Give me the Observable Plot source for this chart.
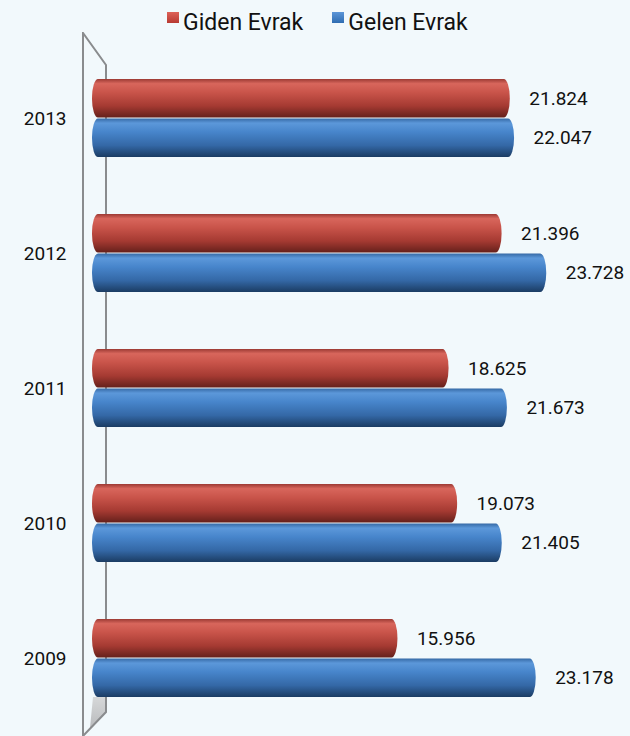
<!DOCTYPE html>
<html><head><meta charset="utf-8">
<script src="https://cdn.jsdelivr.net/npm/d3@7"></script>
<script src="https://cdn.jsdelivr.net/npm/@observablehq/plot@0.6"></script>
<style>
body{margin:0;background:#f2f9fc;font-family:Roboto, "DejaVu Sans", sans-serif;}
#legend{height:32px;display:flex;align-items:flex-start;padding-left:167px;box-sizing:border-box;color:#111;font-size:23px;}
.item{display:flex;align-items:flex-start;}
.item + .item{margin-left:29px;}
.sw{width:12px;height:11px;margin-top:12px;margin-right:4px;}
.lab{line-height:22px;margin-top:12px;}
#chart svg{display:block;}
</style></head><body>
<div id="legend"></div><div id="chart"></div>
<script>
const years = ["2013","2012","2011","2010","2009"];
const giden = [21824,21396,18625,19073,15956];
const gelen = [22047,23728,21673,21405,23178];
const seriesNames = ["Giden Evrak","Gelen Evrak"];
const seriesSwatches = ["linear-gradient(#dd6258,#b83a32)","linear-gradient(#5c96d8,#2f6db2)"];

const fmt = v => d3.format(",")(v).replace(/,/g, ".");
const gidenData = years.map((y,i)=>({year:y, value:giden[i]}));
const gelenData = years.map((y,i)=>({year:y, value:gelen[i]}));

// legend
const leg = d3.select("#legend");
seriesNames.forEach((n,i)=>{
  const it = leg.append("div").attr("class","item");
  it.append("div").attr("class","sw").style("background", seriesSwatches[i]);
  it.append("div").attr("class","lab").text(n);
});

function wall(index, scales, values, dims) {
  const x0 = scales.x(0);
  const g = d3.create("svg:g");
  const defs = g.append("defs");
  const grads = [
    ["gradRed", [["0%","#9c3a34"],["12%","#d8665c"],["35%","#c9544a"],["70%","#a53a32"],["100%","#65201b"]]],
    ["gradBlue", [["0%","#366aa6"],["12%","#5c98da"],["35%","#4785cb"],["70%","#3468a6"],["100%","#1b3c63"]]],
    ["gradFloor", [["0%","#d6d8d9"],["100%","#b9bbbd"]]]
  ];
  for (const [id, stops] of grads) {
    const lg = defs.append("linearGradient").attr("id", id).attr("x1",0).attr("y1",0).attr("x2",0).attr("y2",1);
    for (const [o,c] of stops) lg.append("stop").attr("offset",o).attr("stop-color",c);
  }
  const H = dims.height;
  const bw = scales.y.bandwidth ? scales.y.bandwidth() : 78;
  const b = scales.y(years[years.length-1]) + bw;
  const t = scales.y(years[0]);
  g.append("path")
    .attr("d", `M${x0+1},${b} L${x0+14},${b} L${x0+14},${b+15} L${x0-2},${b+31} Z`)
    .attr("fill","url(#gradFloor)");
  g.append("path")
    .attr("d", `M${x0-9},${H} L${x0-9},1 L${x0+14},${t-14} L${x0+14},${b+15} L${x0-9},${H}`)
    .attr("fill","none").attr("stroke","#8a8c8e").attr("stroke-width",2);
  return g.node();
}

const plot = Plot.plot({
  width: 630,
  height: 704,
  marginLeft: 92,
  marginRight: 2,
  marginTop: 0,
  marginBottom: 0,
  style: {background: "#f2f9fc", fontFamily: "Roboto, 'DejaVu Sans', sans-serif", fontSize: "19px", color: "#111"},
  x: {domain: [0, 28000], axis: null},
  y: {domain: years, paddingInner: 0.4222, paddingOuter: 0.3185, align: 0.5465, tickSize: 0, tickPadding: 26, label: null},
  marks: [
    wall,
    Plot.barX(gidenData, {x: "value", y: "year", insetBottom: 39.5, fill: "url(#gradRed)", rx: 6, ry: 19}),
    Plot.barX(gelenData, {x: "value", y: "year", insetTop: 39.5, fill: "url(#gradBlue)", rx: 6, ry: 19}),
    Plot.text(gidenData, {x: "value", y: "year", text: d => fmt(d.value), dx: 19, dy: -19.5, textAnchor: "start", fontSize: 19, fill: "#111"}),
    Plot.text(gelenData, {x: "value", y: "year", text: d => fmt(d.value), dx: 19, dy: 19.5, textAnchor: "start", fontSize: 19, fill: "#111"})
  ]
});
document.getElementById("chart").appendChild(plot);
</script>
</body></html>
